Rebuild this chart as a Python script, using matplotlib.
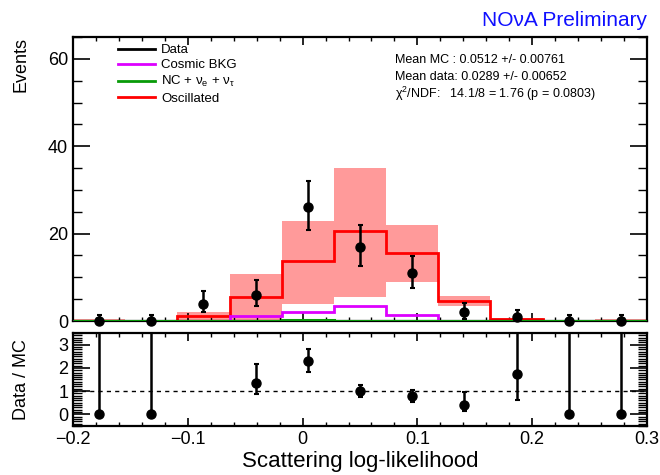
import numpy as np
import matplotlib
matplotlib.use("Agg")
import matplotlib.pyplot as plt
from matplotlib.lines import Line2D
from matplotlib.ticker import MultipleLocator

plt.rcParams['font.family'] = ['Liberation Sans', 'DejaVu Sans']
plt.rcParams['mathtext.fontset'] = 'custom'
plt.rcParams['mathtext.rm'] = 'Liberation Sans'
plt.rcParams['mathtext.it'] = 'Liberation Sans'

# binning of the scattering log-likelihood
bin_edges = [-0.2, -0.15455, -0.10909, -0.06364, -0.01818, 0.02727,
             0.07273, 0.11818, 0.16364, 0.20909, 0.25455, 0.3]

# data points (counts and asymmetric errors)
data_counts = [0, 0, 4, 6, 26, 17, 11, 2, 1, 0, 0]
data_err_lo = [0, 0, 1.9, 2.5, 5.2, 4.3, 3.4, 1.5, 0.8, 0, 0]
data_err_hi = [1.3, 1.3, 2.8, 3.3, 6.1, 4.9, 3.8, 2.1, 1.6, 1.3, 1.3]

# MC predictions
oscillated = [0.1, 0, 1.1, 5.6, 13.7, 20.6, 15.6, 4.6, 0.4, 0, 0.1]
osc_band_lo = [0, 0, 0.2, 0, 4.0, 5.5, 8.9, 3.4, 0.2, 0, 0]
osc_band_hi = [0.4, 0, 2.1, 10.7, 22.9, 35.0, 21.9, 5.7, 0.6, 0, 0.4]
cosmic_bkg = [0, 0, 0, 1.15, 2.0, 3.45, 1.3, 0, 0, 0, 0]
nc_nue_nutau = [0, 0, 0, 0.05, 0.15, 0.1, 0.05, 0, 0, 0, 0]

# data / MC ratio
ratio = [0, 0, np.nan, 1.37, 2.29, 1.0, 0.78, 0.42, 1.74, 0, 0]
ratio_err_lo = [0, 0, np.nan, 0.49, 0.46, 0.25, 0.24, 0.28, 1.12, 0, 0]
ratio_err_hi = [5, 5, np.nan, 0.80, 0.52, 0.27, 0.28, 0.54, 3.0, 5, 5]

stats_lines = ["Mean MC : 0.0512 +/- 0.00761",
               "Mean data: 0.0289 +/- 0.00652",
               "χ$^{2}$/NDF:   14.1/8 = 1.76 (p = 0.0803)"]

edges = np.array(bin_edges)
centers = 0.5 * (edges[:-1] + edges[1:])

RED = '#ff0000'
PINK = '#ff9a9a'
MAGENTA = '#dd00ff'
GREEN = '#089a08'

fig = plt.figure(figsize=(6.6, 4.75), dpi=100)
ax = fig.add_axes([0.1106, 0.3242, 0.8697, 0.598])
ax2 = fig.add_axes([0.1106, 0.1032, 0.8697, 0.1958], sharex=ax)

# top panel
ax.stairs(osc_band_hi, edges, baseline=osc_band_lo, fill=True, color=PINK,
          lw=0, zorder=1)
ax.stairs(oscillated, edges, color=RED, lw=2, zorder=2)
ax.stairs(cosmic_bkg, edges, color=MAGENTA, lw=2, zorder=3)
ax.stairs(nc_nue_nutau, edges, color=GREEN, lw=2.2, zorder=4)
ax.errorbar(centers, data_counts, yerr=[data_err_lo, data_err_hi], fmt='o',
            color='black', ms=6.5, elinewidth=1.8, capsize=1.8, capthick=1.5,
            zorder=5, clip_on=False)

ax.set_xlim(-0.2, 0.3)
ax.set_ylim(0, 65)
ax.yaxis.set_major_locator(MultipleLocator(20))
ax.yaxis.set_minor_locator(MultipleLocator(5))
ax.xaxis.set_major_locator(MultipleLocator(0.1))
ax.xaxis.set_minor_locator(MultipleLocator(0.02))
ax.tick_params(labelbottom=False)
ax.set_ylabel('Events', fontsize=13, loc='top')
ax.yaxis.set_label_coords(-0.075, 1.0)

handles = [Line2D([], [], color='black', lw=2),
           Line2D([], [], color=MAGENTA, lw=2),
           Line2D([], [], color=GREEN, lw=2),
           Line2D([], [], color=RED, lw=2)]
labels = ['Data', 'Cosmic BKG', r'NC + ν$_{e}$ + ν$_{\tau}$', 'Oscillated']
ax.legend(handles, labels, loc='upper left', bbox_to_anchor=(0.078, 0.975),
          frameon=False, fontsize=9.5, handlelength=2.8, handletextpad=0.5,
          labelspacing=0.22, borderpad=0, borderaxespad=0)

for i, line in enumerate(stats_lines):
    ax.text(0.561, 0.92 - i * 0.06, line, transform=ax.transAxes,
            fontsize=9, va='center', ha='left')

ax.text(1.0, 1.037, 'NOνA Preliminary', transform=ax.transAxes,
        fontsize=15, color='#1010ff', ha='right', va='baseline')

# ratio panel
ax2.axhline(1, color='black', lw=1, ls=(0, (3, 3)), zorder=1)
ax2.errorbar(centers, ratio, yerr=[ratio_err_lo, ratio_err_hi], fmt='o',
             color='black', ms=6.5, elinewidth=1.8, capsize=1.8, capthick=1.5,
             zorder=3)
ax2.set_ylim(-0.5, 3.5)
ax2.yaxis.set_major_locator(MultipleLocator(1))
ax2.yaxis.set_minor_locator(MultipleLocator(0.1))
ax2.set_ylabel('Data / MC', fontsize=13)
ax2.yaxis.set_label_coords(-0.075, 0.5)
ax2.set_xlabel('Scattering log-likelihood', fontsize=16, va='top')
ax2.xaxis.set_label_coords(0.5, -0.27)

for a, ylen in ((ax, 12.5), (ax2, 12.5)):
    a.tick_params(which='both', direction='in', top=True, right=True,
                  labelsize=13)
    a.tick_params(axis='y', which='major', length=ylen, width=1.2)
    a.tick_params(axis='y', which='minor', length=ylen / 2, width=1)
    a.tick_params(axis='x', which='major', length=6, width=1.2)
    a.tick_params(axis='x', which='minor', length=3, width=1)
    for s in a.spines.values():
        s.set_linewidth(1.6)

ax2.xaxis.set_major_formatter(
    matplotlib.ticker.FuncFormatter(lambda v, p: '0' if abs(v) < 1e-9 else f'{v:g}'.replace('-', '\u2212')))

fig.savefig('out.png', dpi=100)
